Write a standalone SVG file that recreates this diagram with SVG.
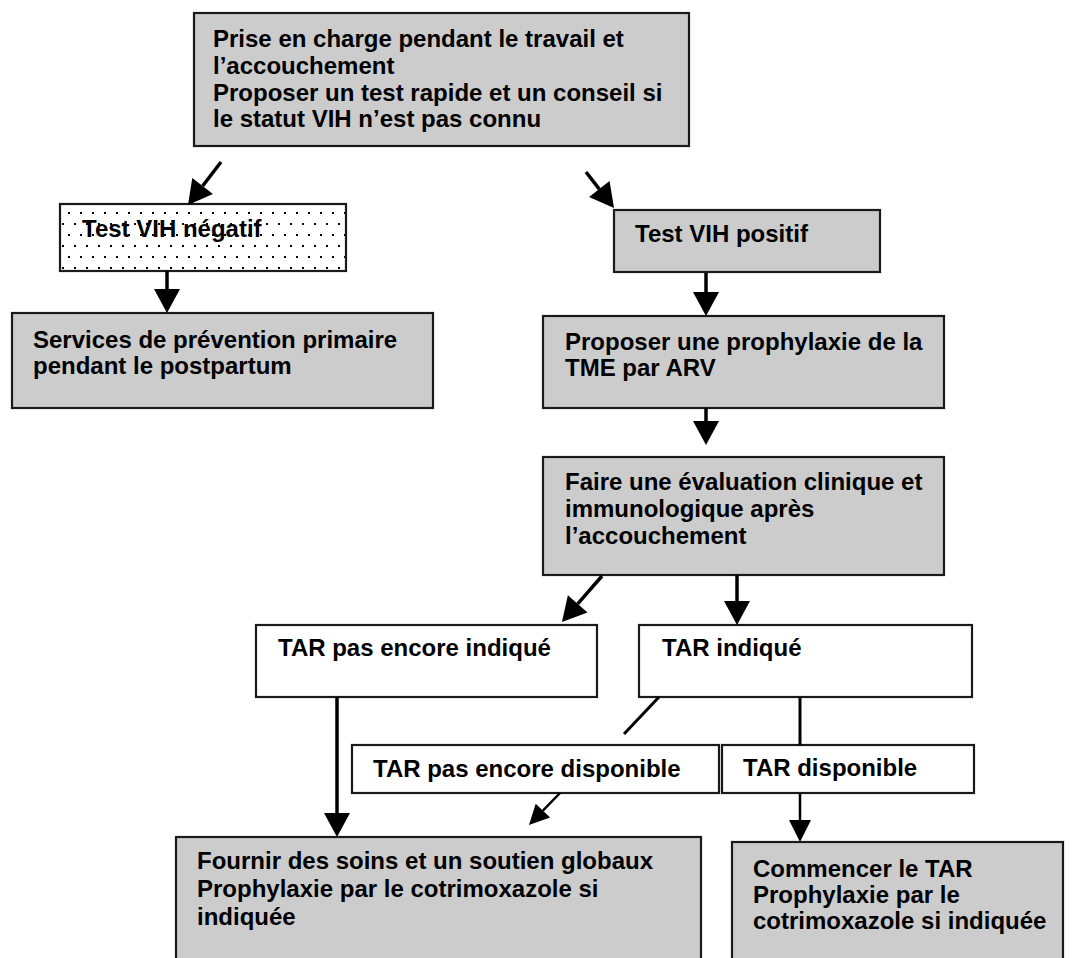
<svg xmlns="http://www.w3.org/2000/svg" width="1077" height="958" viewBox="0 0 1077 958">
<style>
.box{stroke:#1a1a1a;stroke-width:2.2}
.grey{fill:#cccccc}
.white{fill:#ffffff}
.t{font-family:"Liberation Sans",Arial,sans-serif;font-weight:bold;font-size:24px;fill:#000}
.c{stroke:#000;fill:none;stroke-linecap:butt}
.w1{stroke-width:3.5}
.w2{stroke-width:3}
.w3{stroke-width:2.5}
</style>
<defs>
<pattern id="dots" width="12" height="22" patternUnits="userSpaceOnUse">
<rect width="12" height="22" fill="#fff"/>
<rect x="2" y="3" width="2" height="2" fill="#000"/>
<rect x="8" y="14" width="2" height="2" fill="#000"/>
</pattern>
<marker id="big" markerUnits="userSpaceOnUse" markerWidth="26" markerHeight="28" refX="0" refY="13" orient="auto" overflow="visible">
<path d="M0,0 L24,13 L0,26 Z" fill="#000"/>
</marker>
<marker id="mid" markerUnits="userSpaceOnUse" markerWidth="24" markerHeight="24" refX="0" refY="11" orient="auto" overflow="visible">
<path d="M0,0 L22,11 L0,22 Z" fill="#000"/>
</marker>
<marker id="small" markerUnits="userSpaceOnUse" markerWidth="22" markerHeight="22" refX="0" refY="10" orient="auto" overflow="visible">
<path d="M0,0 L20,10 L0,20 Z" fill="#000"/>
</marker>
</defs>

<g id="n-top">
<rect class="box grey" x="194" y="13" width="495" height="133"/>
<text class="t" x="213" y="47">Prise en charge pendant le travail et</text>
<text class="t" x="213" y="74">l’accouchement</text>
<text class="t" x="213" y="101">Proposer un test rapide et un conseil si</text>
<text class="t" x="213" y="127">le statut VIH n’est pas connu</text>
</g>

<g id="n-negatif">
<rect class="box" x="60" y="204" width="286" height="67" fill="url(#dots)"/>
<text class="t" x="82" y="237">Test VIH négatif</text>
</g>

<g id="n-positif">
<rect class="box grey" x="614" y="210" width="266" height="62"/>
<text class="t" x="635" y="242">Test VIH positif</text>
</g>

<g id="n-services">
<rect class="box grey" x="12" y="313" width="421" height="95"/>
<text class="t" x="33" y="348">Services de prévention primaire</text>
<text class="t" x="33" y="374">pendant le postpartum</text>
</g>

<g id="n-proposer">
<rect class="box grey" x="543" y="316" width="401" height="92"/>
<text class="t" x="565" y="350">Proposer une prophylaxie de la</text>
<text class="t" x="565" y="376">TME par ARV</text>
</g>

<g id="n-faire">
<rect class="box grey" x="543" y="457" width="401" height="118"/>
<text class="t" x="565" y="490">Faire une évaluation clinique et</text>
<text class="t" x="565" y="517">immunologique après</text>
<text class="t" x="565" y="544">l’accouchement</text>
</g>

<g id="n-tar-pas-indique">
<rect class="box white" x="256" y="625" width="341" height="72"/>
<text class="t" x="278" y="656">TAR pas encore indiqué</text>
</g>

<g id="n-tar-indique">
<rect class="box white" x="639" y="625" width="333" height="72"/>
<text class="t" x="662" y="656">TAR indiqué</text>
</g>

<g id="n-tar-pas-dispo">
<rect class="box white" x="352" y="745" width="367" height="48"/>
<text class="t" x="373" y="777">TAR pas encore disponible</text>
</g>

<g id="n-tar-dispo">
<rect class="box white" x="722" y="745" width="252" height="48"/>
<text class="t" x="743" y="776">TAR disponible</text>
</g>

<g id="n-fournir">
<rect class="box grey" x="176" y="837" width="525" height="140"/>
<text class="t" x="197" y="869">Fournir des soins et un soutien globaux</text>
<text class="t" x="197" y="897">Prophylaxie par le cotrimoxazole si</text>
<text class="t" x="197" y="925">indiquée</text>
</g>

<g id="n-commencer">
<rect class="box grey" x="732" y="842" width="331" height="140"/>
<text class="t" x="753" y="877">Commencer le TAR</text>
<text class="t" x="753" y="903">Prophylaxie par le</text>
<text class="t" x="753" y="929">cotrimoxazole si indiquée</text>
</g>

<g id="connectors">
<line class="c w1" x1="221" y1="162" x2="202.6" y2="186" marker-end="url(#big)"/>
<line class="c w1" x1="586" y1="172" x2="599.3" y2="189.1" marker-end="url(#big)"/>
<line class="c w1" x1="167" y1="271" x2="167" y2="289" marker-end="url(#big)"/>
<line class="c w1" x1="706" y1="273" x2="706" y2="292" marker-end="url(#big)"/>
<line class="c w1" x1="706" y1="408" x2="706" y2="421" marker-end="url(#big)"/>
<line class="c w1" x1="602" y1="576" x2="577.7" y2="603.9" marker-end="url(#big)"/>
<line class="c w1" x1="737" y1="575" x2="737" y2="601" marker-end="url(#big)"/>
<line class="c w1" x1="337" y1="697" x2="337" y2="813" marker-end="url(#big)"/>
<line class="c w2" x1="659" y1="697" x2="624" y2="734"/>
<line class="c w2" x1="800" y1="697" x2="800" y2="745"/>
<line class="c w3" x1="560" y1="793" x2="542.9" y2="810.6" marker-end="url(#small)"/>
<line class="c w3" x1="800" y1="793" x2="800" y2="820" marker-end="url(#mid)"/>
</g>
</svg>
